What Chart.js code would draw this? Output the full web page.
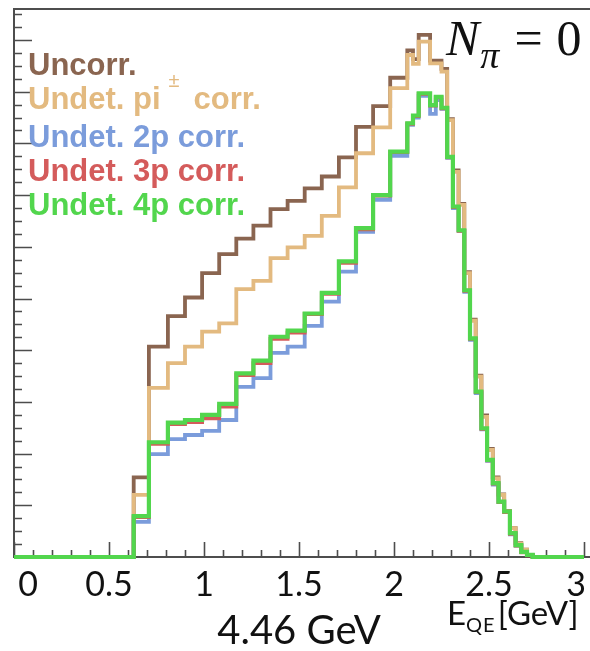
<!DOCTYPE html>
<html>
<head>
<meta charset="utf-8">
<script src="https://cdn.jsdelivr.net/npm/chart.js@4.4.1/dist/chart.umd.min.js"></script>
<style>
  body { margin: 0; background: #fff; }
  #wrap { position: relative; width: 590px; height: 651px; overflow: hidden; }
  #plot { position: absolute; left: 0; top: 0; }
  .txt { position: absolute; white-space: nowrap; }
  #legend { left: 28px; top: 48px; font: bold 31px 'Liberation Sans', Arial, sans-serif; line-height: 34.3px; }
  #legend .pm { position: relative; top: -22px; font-size: 20px; font-weight: normal; margin: 0 14px 0 8px; }
  .tick { font: 34px Lato, sans-serif; line-height: 34px; color: #111; transform: translateX(-50%); }
  #npi { left: 446px; top: 13px; font: 50px 'Liberation Serif', 'Times New Roman', serif; line-height: 50px; color: #111; }
  #npi .sub { position: relative; top: 13px; font-size: 38px; font-style: italic; margin-left: 1px; }
  #npi .eq { margin: 0 14px 0 15px; }
  #xtitle { left: 447px; top: 596px; font: 33px Lato, sans-serif; line-height: 33px; color: #111; }
  #xtitle .sub { position: relative; top: 7px; font-size: 20px; letter-spacing: 1px; margin-right: 2px; }
  #energy { left: 299px; top: 609px; font: 40px Lato, sans-serif; line-height: 40px; color: #111; transform: translateX(-50%); }
</style>
</head>
<body>
<div id="wrap">
  <canvas id="plot" width="590" height="651"></canvas>
  <div id="legend" class="txt">
    <div style="color:#8a6550">Uncorr.</div>
    <div style="color:#e3ba80">Undet. pi<span class="pm">±</span>corr.</div>
    <div style="color:#7b9cdb">Undet. 2p corr.</div>
    <div style="color:#d45b5b">Undet. 3p corr.</div>
    <div style="color:#52d64d">Undet. 4p corr.</div>
  </div>
  <div id="npi" class="txt"><i>N</i><span class="sub">π</span><span class="eq">=</span>0</div>
  <div id="xtitle" class="txt">E<span class="sub">QE</span>[GeV]</div>
  <div id="energy" class="txt">4.46 GeV</div>
</div>
<script>
// E_QE bin edges: 0.09 GeV wide up to 2.07, then 0.03 GeV
const binEdges = [0.63, 0.71, 0.81, 0.90, 0.99, 1.08, 1.17, 1.26, 1.35, 1.44, 1.53, 1.62, 1.71, 1.80, 1.89, 1.98, 2.07,
  2.10, 2.13, 2.16, 2.19, 2.22, 2.25, 2.28, 2.31, 2.34, 2.37, 2.40, 2.43, 2.46, 2.49, 2.52, 2.55, 2.58, 2.61, 2.64, 2.67, 2.70, 2.73];

const uncorr = [1.54, 4.07, 4.66, 5.02, 5.49, 5.86, 6.16, 6.41, 6.73, 6.89, 7.13, 7.36, 7.73, 8.32, 8.72, 9.27,
  9.80, 9.63, 10.10, 10.10, 9.60, 9.60, 9.44, 8.47, 7.48, 6.83, 5.51, 4.59, 3.51, 2.74, 2.09, 1.54, 1.21, 0.89, 0.56, 0.27, 0.14, 0.04];
const piCorr = [1.20, 3.27, 3.75, 4.07, 4.36, 4.52, 5.18, 5.34, 5.78, 5.99, 6.21, 6.60, 7.15, 7.81, 8.31, 9.07,
  9.71, 9.54, 9.97, 9.97, 9.55, 9.55, 9.39, 8.45, 7.45, 6.81, 5.49, 4.57, 3.49, 2.71, 2.07, 1.52, 1.20, 0.88, 0.56, 0.26, 0.14, 0.04];
const corr2p = [0.68, 1.99, 2.28, 2.36, 2.44, 2.65, 3.29, 3.46, 3.95, 4.07, 4.47, 4.94, 5.52, 6.29, 6.91, 7.76,
  8.36, 8.50, 8.92, 8.92, 8.57, 8.84, 8.67, 7.72, 6.75, 6.31, 5.13, 4.20, 3.17, 2.47, 1.86, 1.40, 1.06, 0.87, 0.44, 0.22, 0.10, 0.04];
const corr3p = [0.77, 2.19, 2.57, 2.61, 2.68, 2.91, 3.52, 3.75, 4.22, 4.34, 4.70, 5.09, 5.69, 6.34, 6.99, 7.83,
  8.38, 8.53, 8.96, 8.96, 8.73, 8.89, 8.68, 7.73, 6.77, 6.31, 5.15, 4.22, 3.19, 2.48, 1.87, 1.42, 1.06, 0.87, 0.45, 0.22, 0.09, 0.03];
const corr4p = [0.79, 2.22, 2.60, 2.65, 2.75, 2.96, 3.55, 3.80, 4.26, 4.38, 4.71, 5.11, 5.72, 6.36, 7.00, 7.84,
  8.39, 8.54, 8.97, 8.97, 8.74, 8.90, 8.69, 7.74, 6.78, 6.32, 5.16, 4.23, 3.20, 2.49, 1.88, 1.43, 1.07, 0.88, 0.46, 0.23, 0.10, 0.04];

const xTickValues = [0, 0.5, 1, 1.5, 2, 2.5, 3];
const xTickLabels = ['0', '0.5', '1', '1.5', '2', '2.5', '3'];

// turn bin contents into step points, empty from 0 up to the first edge and after the last
function steps(values) {
  const pts = [{ x: 0, y: 0 }];
  values.forEach((v, i) => pts.push({ x: binEdges[i], y: v }));
  pts.push({ x: binEdges[binEdges.length - 1], y: 0 });
  pts.push({ x: 3, y: 0 });
  return pts;
}

function hist(label, values, color, order, width) {
  return {
    label, data: steps(values), order,
    borderColor: color, borderWidth: width || 3.8,
    stepped: 'before', pointRadius: 0, fill: false, clip: false,
    borderJoinStyle: 'miter', borderCapStyle: 'butt'
  };
}

// ROOT style frame with inward ticks
const axesPlugin = {
  id: 'axes',
  beforeDatasetsDraw(chart) {
    const { ctx, chartArea: a, scales: { x, y } } = chart;
    ctx.save();
    ctx.strokeStyle = '#4d4d4d';
    ctx.lineWidth = 1.6;
    ctx.beginPath();
    for (let i = 0; i <= 30; i++) {
      const px = Math.round(x.getPixelForValue(i / 10)) + 0.5;
      const len = i % 5 === 0 ? 15 : 7;
      ctx.moveTo(px, a.bottom);
      ctx.lineTo(px, a.bottom - len);
    }
    for (let i = 1; i * 0.25 <= y.max; i++) {
      const py = Math.round(y.getPixelForValue(i * 0.25)) + 0.5;
      const len = i % 4 === 0 ? 18 : 8;
      ctx.moveTo(a.left, py);
      ctx.lineTo(a.left + len, py);
    }
    ctx.stroke();
    ctx.lineWidth = 2;
    ctx.beginPath();
    ctx.moveTo(chart.width, a.top);
    ctx.lineTo(a.left, a.top);
    ctx.lineTo(a.left, a.bottom);
    ctx.lineTo(chart.width, a.bottom);
    ctx.stroke();
    ctx.restore();
  }
};

const chart = new Chart(document.getElementById('plot'), {
  type: 'line',
  data: {
    datasets: [
      hist('Uncorr.', uncorr, '#8a6550', 4),
      hist('Undet. pi± corr.', piCorr, '#e3ba80', 3),
      hist('Undet. 2p corr.', corr2p, '#7b9cdb', 2),
      hist('Undet. 3p corr.', corr3p, '#d45b5b', 1),
      hist('Undet. 4p corr.', corr4p, '#52d64d', 0, 4.2)
    ]
  },
  options: {
    responsive: false,
    animation: false,
    layout: { padding: { left: 14, right: 6, top: 9, bottom: 94 } },
    scales: {
      x: { type: 'linear', min: 0, max: 3, display: false },
      y: { type: 'linear', min: 0, max: 10.6, display: false }
    },
    plugins: { legend: { display: false }, tooltip: { enabled: false } }
  },
  plugins: [axesPlugin]
});

// x tick labels placed from the x scale
const wrap = document.getElementById('wrap');
xTickValues.forEach((v, i) => {
  const el = document.createElement('div');
  el.className = 'txt tick';
  el.textContent = xTickLabels[i];
  let px = chart.scales.x.getPixelForValue(v);
  if (i === 0) px += 14;
  if (i === xTickValues.length - 1) px -= 8;
  el.style.left = px + 'px';
  el.style.top = '566px';
  wrap.appendChild(el);
});
</script>
</body>
</html>
